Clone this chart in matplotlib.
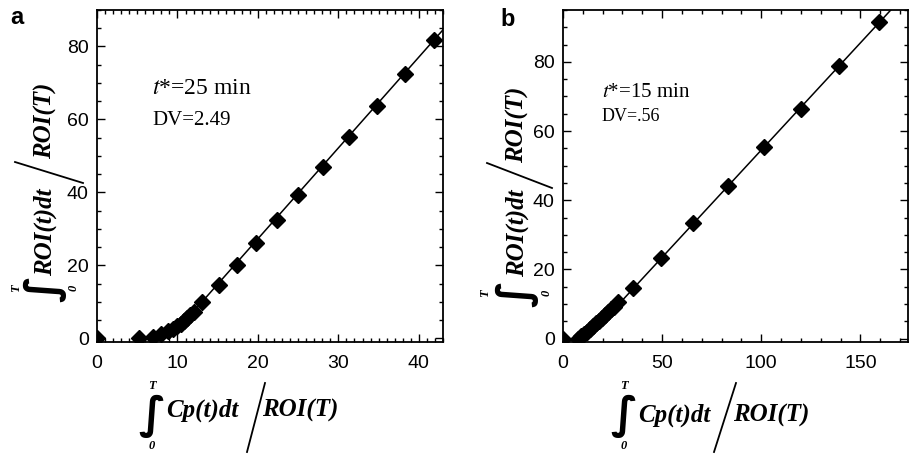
import numpy as np
import matplotlib
matplotlib.use("Agg")
import matplotlib.pyplot as plt
from matplotlib.lines import Line2D
from matplotlib.ticker import MultipleLocator

plt.rcParams['mathtext.fontset'] = 'stix'

# panel a data
xa = [0.0, 5.2, 7.0, 8.0, 8.8, 9.4, 9.9, 10.4, 10.8, 11.2, 11.6, 12.0,
      13.1, 15.1, 17.4, 19.8, 22.4, 25.0, 28.1, 31.3, 34.8, 38.3, 41.9]
ya = [0.0, 0.0, 0.5, 1.3, 2.0, 2.7, 3.3, 4.0, 4.7, 5.5, 6.3, 7.3,
      10.1, 14.6, 20.1, 26.1, 32.4, 39.3, 47.1, 55.3, 63.7, 72.5, 81.8]
fit_a = (2.49, -22.5)

# panel b data
xb = [0.0, 7.5, 9.0, 10.5, 12.0, 13.5, 15.0, 16.5, 18.0, 19.5, 21.0, 22.5,
      24.0, 25.5, 27.5, 35.4, 49.2, 65.7, 83.1, 101.5, 120.0, 139.4, 159.6]
yb = [0.0, 0.0, 0.6, 1.3, 2.0, 2.8, 3.6, 4.4, 5.2, 6.0, 6.8, 7.6,
      8.4, 9.2, 10.6, 14.5, 23.2, 33.5, 44.0, 55.3, 66.4, 78.7, 91.5]
fit_b = (0.62, -7.5)

W, H = 909, 455
fig = plt.figure(figsize=(W / 100, H / 100), dpi=100)


def px(x, y):
    return x / W, 1 - y / H


lab = dict(family='Liberation Serif', weight='bold', style='italic')
integ = dict(family='DejaVu Sans', weight='bold', fontsize=32, ha='center', va='center')


def xlabel(xi, y, xnum, xslash, xden):
    fig.text(*px(xi, 416), '\u222b', **integ)
    fig.text(*px(xi, 386), 'T', fontsize=9, ha='center', va='center', **lab)
    fig.text(*px(xi, 446), '0', fontsize=9, ha='center', va='center', **lab)
    fig.text(*px(xnum, y), 'Cp(t)dt', fontsize=18, ha='center', va='center', **lab)
    fig.add_artist(Line2D([xslash[0] / W, xslash[1] / W],
                          [1 - 452 / H, 1 - 383 / H], color='black', lw=1.3,
                          transform=fig.transFigure))
    fig.text(*px(xden, y), 'ROI(T)', fontsize=18, ha='center', va='center', **lab)


def ylabel(x, yi, xt, x0, ynum, slash, yden):
    fig.text(*px(x, yi), '\u222b', rotation=90, **integ)
    fig.text(*px(xt, yi), 'T', fontsize=9, rotation=90, ha='center', va='center', **lab)
    fig.text(*px(x0, yi), '0', fontsize=9, rotation=90, ha='center', va='center', **lab)
    fig.text(*px(x, ynum), 'ROI(t)dt', fontsize=18, rotation=90, ha='center', va='center', **lab)
    fig.add_artist(Line2D([slash[0] / W, slash[2] / W],
                          [1 - slash[1] / H, 1 - slash[3] / H], color='black', lw=1.3,
                          transform=fig.transFigure))
    fig.text(*px(x, yden), 'ROI(T)', fontsize=18, rotation=90, ha='center', va='center', **lab)


def style(ax, xmaj, xmin):
    ax.xaxis.set_major_locator(MultipleLocator(xmaj))
    ax.xaxis.set_minor_locator(MultipleLocator(xmin))
    ax.yaxis.set_major_locator(MultipleLocator(20))
    ax.yaxis.set_minor_locator(MultipleLocator(5))
    ax.tick_params(which='both', direction='in', top=True, right=True, width=1,
                   labelsize=14, labelfontfamily='Liberation Sans')
    ax.tick_params(which='major', length=6)
    ax.tick_params(which='minor', length=3)
    ax.tick_params(axis='x', pad=9)
    ax.tick_params(axis='y', pad=6)
    for s in ax.spines.values():
        s.set_linewidth(1.3)


axa = fig.add_axes([97 / W, 113 / H, 346 / W, 332 / H])
xx = np.array([9.0, 45.0])
axa.plot(xx, fit_a[0] * xx + fit_a[1], color='black', lw=1.1)
axa.plot(xa, ya, 'D', color='black', ms=8.5)
axa.set_xlim(0, 43)
axa.set_ylim(-1, 90)
style(axa, 10, 1)
axa.text(0.16, 0.765, '$\\mathit{t}$*=25 min', transform=axa.transAxes, fontsize=17,
         family='Liberation Serif', va='center')
axa.text(0.16, 0.668, 'DV=2.49', transform=axa.transAxes, fontsize=15,
         family='Liberation Serif', va='center')

axb = fig.add_axes([563 / W, 113 / H, 345 / W, 332 / H])
xx = np.array([12.0, 180.0])
axb.plot(xx, fit_b[0] * xx + fit_b[1], color='black', lw=1.1)
axb.plot(xb, yb, 'D', color='black', ms=8.5)
axb.set_xlim(0, 174)
axb.set_ylim(-1, 95)
style(axb, 50, 10)
axb.text(0.113, 0.753, '$\\mathit{t}$*=15 min', transform=axb.transAxes, fontsize=15,
         family='Liberation Serif', va='center')
axb.text(0.113, 0.678, 'DV=.56', transform=axb.transAxes, fontsize=13,
         family='Liberation Serif', va='center')

xlabel(152, 410, 202, (247, 265), 300)
xlabel(624, 415, 674, (714, 736), 771)
ylabel(45, 288, 16, 74, 232, (83, 183, 15, 162), 121)
ylabel(517, 293, 485, 547, 233, (552, 188, 487, 163), 125)

fig.text(*px(17, 17), 'a', fontsize=17, weight='bold', family='Liberation Sans',
         ha='center', va='center')
fig.text(*px(508, 20), 'b', fontsize=17, weight='bold', family='Liberation Sans',
         ha='center', va='center')

fig.savefig('out.png', dpi=100)
